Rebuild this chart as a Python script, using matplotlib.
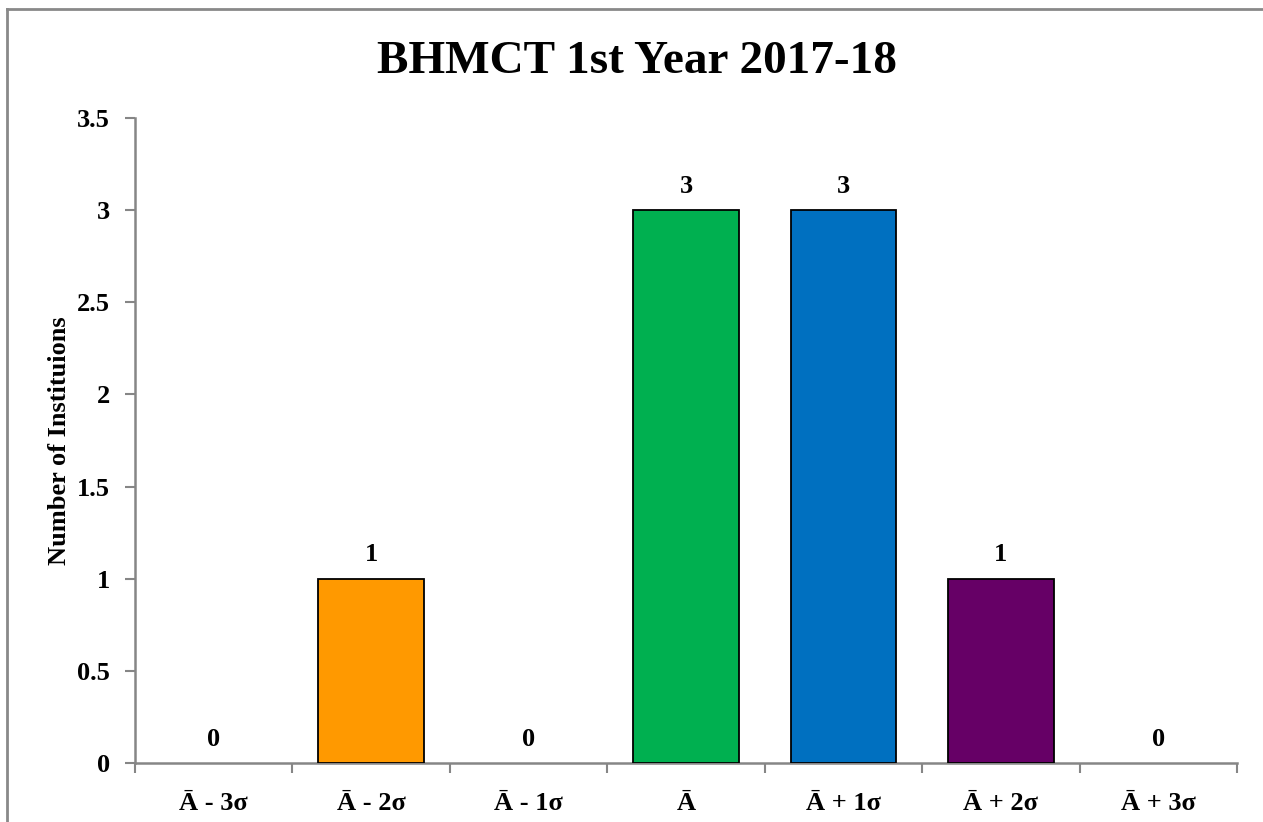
import numpy as np
import matplotlib.pyplot as plt
from matplotlib.lines import Line2D

categories = ['Ā - 3σ', 'Ā - 2σ', 'Ā - 1σ', 'Ā', 'Ā + 1σ', 'Ā + 2σ', 'Ā + 3σ']
counts = [0, 1, 0, 3, 3, 1, 0]
colors = ['#FF9900', '#FF9900', '#FF9900', '#00B050', '#0070C0', '#660066', '#660066']

plt.rcParams['font.family'] = ['Liberation Serif', 'DejaVu Serif']
plt.rcParams['font.weight'] = 'bold'

fig = plt.figure(figsize=(12.63, 8.22), dpi=100)
ax = fig.add_axes([0.1069, 0.0718, 0.8725, 0.7846])

x = np.arange(len(categories))
edges = ['black' if v > 0 else 'none' for v in counts]
ax.bar(x, counts, width=0.67, color=colors, edgecolor=edges, linewidth=1.3, zorder=3)

for xi, v in zip(x, counts):
    ax.text(xi, v + 0.13, str(v), ha='center', va='center', fontsize=19, fontweight='bold')

ax.set_xlim(-0.5, len(categories) - 0.5)
ax.set_ylim(0, 3.5)
ax.set_yticks(np.arange(0, 3.51, 0.5))
ax.set_yticklabels(['0', '0.5', '1', '1.5', '2', '2.5', '3', '3.5'])
ax.set_xticks(x)
ax.set_xticklabels(categories)
ax.set_xticks(np.arange(-0.5, len(categories)), minor=True)
ax.tick_params(axis='x', which='major', length=0, pad=21, labelsize=19)
ax.tick_params(axis='x', which='minor', length=7, width=1.5, color='#868686', direction='out')
ax.tick_params(axis='y', length=7, width=1.5, color='#868686', pad=11, labelsize=19)

for s in ['top', 'right']:
    ax.spines[s].set_visible(False)
for s in ['left', 'bottom']:
    ax.spines[s].set_color('#868686')
    ax.spines[s].set_linewidth(1.8)

ax.set_ylabel('Number of Instituions', fontsize=19, fontweight='bold', labelpad=4)

fig.text(0.504, 0.924, 'BHMCT 1st Year 2017-18', ha='center', va='center',
         fontsize=34, fontweight='bold')

# outer frame (only top and left edges are visible in the original)
fig.add_artist(Line2D([0.0055, 1.0], [0.989, 0.989], color='#898989', lw=2, transform=fig.transFigure))
fig.add_artist(Line2D([0.0055, 0.0055], [0.0, 0.989], color='#898989', lw=2, transform=fig.transFigure))

fig.savefig('out.png', dpi=100)
